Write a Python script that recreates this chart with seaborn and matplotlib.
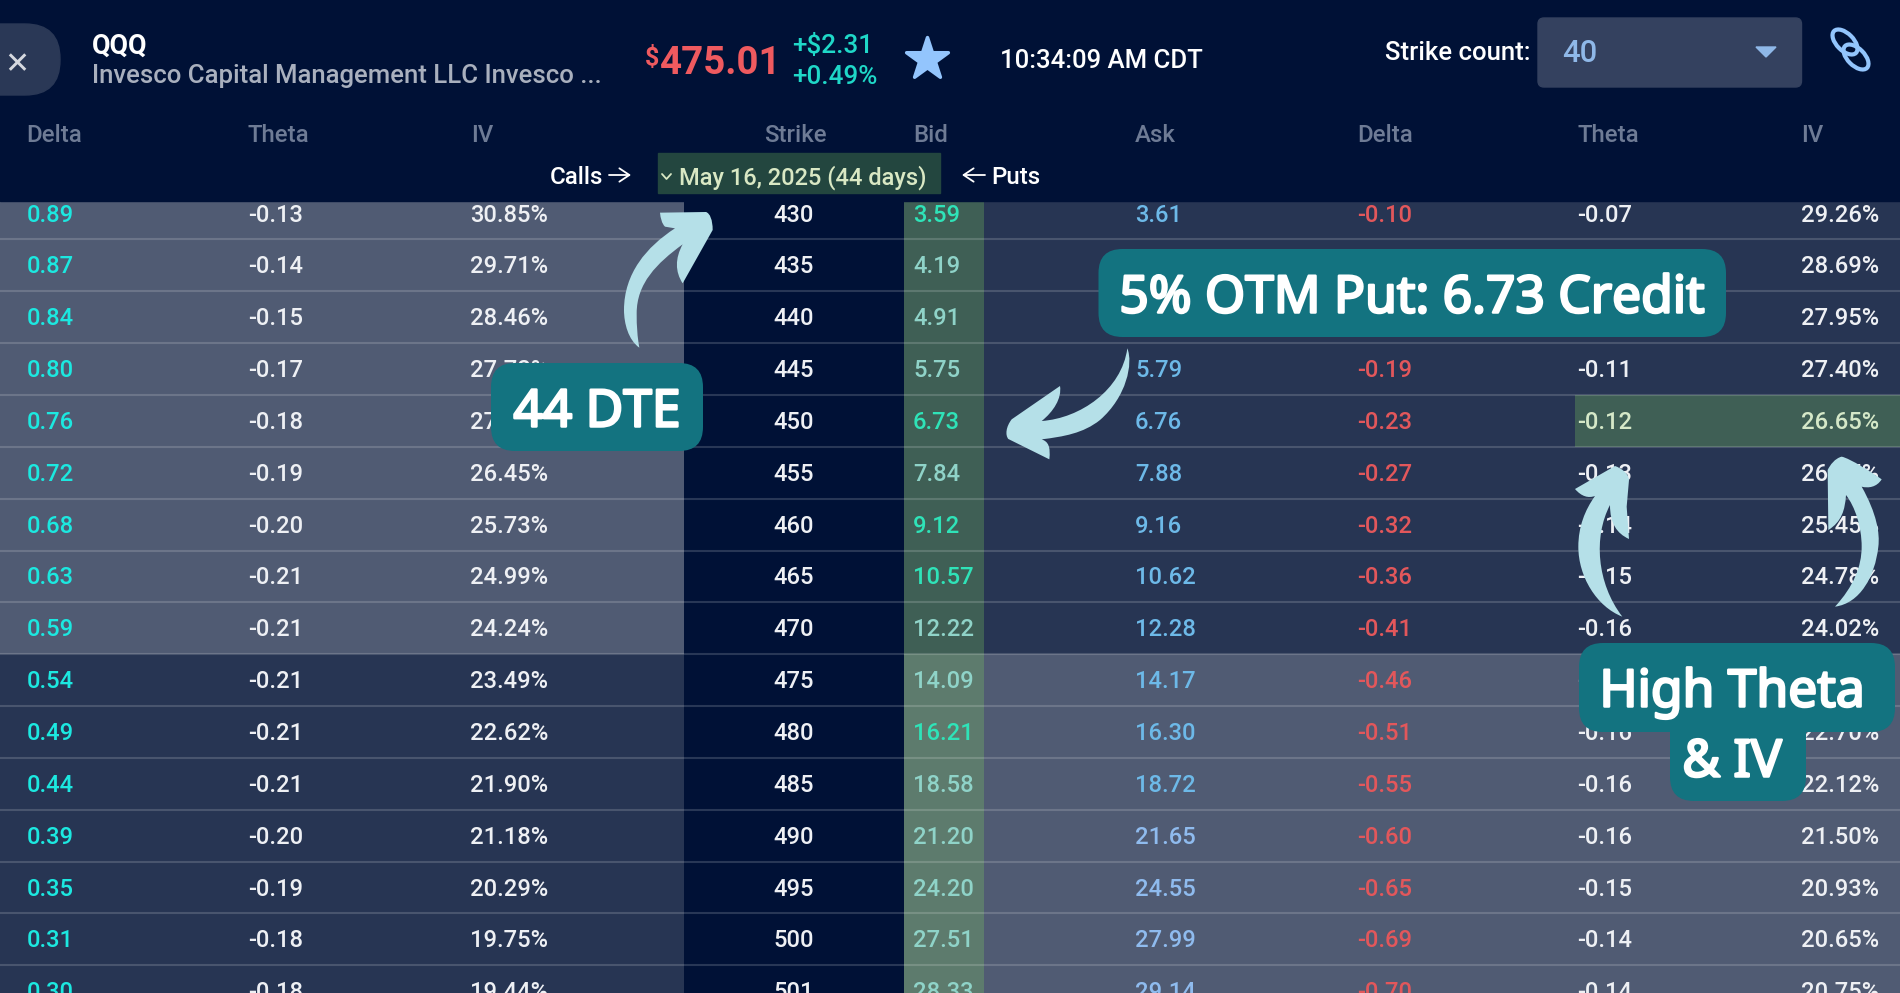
import numpy as np
import pandas as pd
import matplotlib
matplotlib.use("Agg")
import matplotlib.pyplot as plt
import matplotlib.patheffects as pe
from matplotlib.colors import ListedColormap
from matplotlib.markers import MarkerStyle
from matplotlib.patches import Ellipse, FancyBboxPatch, PathPatch, Polygon, Rectangle
from matplotlib.path import Path
import seaborn as sns

# option chain values
strikes = [430, 435, 440, 445, 450, 455, 460, 465, 470, 475, 480, 485, 490, 495, 500, 501]
call_delta = [0.89, 0.87, 0.84, 0.80, 0.76, 0.72, 0.68, 0.63, 0.59, 0.54, 0.49, 0.44, 0.39, 0.35, 0.31, 0.30]
call_theta = [-0.13, -0.14, -0.15, -0.17, -0.18, -0.19, -0.20, -0.21, -0.21, -0.21, -0.21, -0.21, -0.20, -0.19, -0.18, -0.18]
call_iv = [30.85, 29.71, 28.46, 27.72, 27.08, 26.45, 25.73, 24.99, 24.24, 23.49, 22.62, 21.90, 21.18, 20.29, 19.75, 19.44]
bid = [3.59, 4.19, 4.91, 5.75, 6.73, 7.84, 9.12, 10.57, 12.22, 14.09, 16.21, 18.58, 21.20, 24.20, 27.51, 28.33]
ask = [3.61, 4.21, 4.94, 5.79, 6.76, 7.88, 9.16, 10.62, 12.28, 14.17, 16.30, 18.72, 21.65, 24.55, 27.99, 29.14]
put_delta = [-0.10, -0.12, -0.15, -0.19, -0.23, -0.27, -0.32, -0.36, -0.41, -0.46, -0.51, -0.55, -0.60, -0.65, -0.69, -0.70]
put_theta = [-0.07, -0.08, -0.09, -0.11, -0.12, -0.13, -0.14, -0.15, -0.16, -0.16, -0.16, -0.16, -0.16, -0.15, -0.14, -0.14]
put_iv = [29.26, 28.69, 27.95, 27.40, 26.65, 26.05, 25.45, 24.78, 24.02, 23.36, 22.70, 22.12, 21.50, 20.93, 20.65, 20.75]
bid_flash = [1, 0, 0, 0, 1, 0, 1, 1, 0, 0, 1, 0, 0, 0, 0, 0]
column_names = ["Delta", "Theta", "IV", "Strike", "Bid", "Ask", "Delta", "Theta", "IV"]

BG = "#001136"
TEAL = "#137380"
ARROW = "#B5E0E8"
LIGHT = "#505B73"
DARK = "#273553"
WHITE = "#EEF0F4"

sns.set_theme(style="white")
plt.rcParams["font.family"] = ["Roboto", "DejaVu Sans"]

W, H = 1900, 993
ROW_H = 51.85
ROW_0 = 213.5
n = len(strikes)
df = pd.DataFrame({"strike": strikes, "itm": [s < 475 for s in strikes]})

fig = plt.figure(figsize=(19, 9.93), dpi=100, facecolor=BG)


def px(size):
    return size * 0.72


# background cells: one heatmap per block of columns, they have different widths
cell_colors = [BG, LIGHT, DARK, "#3F5F55", "#5D7B6D", "#3F5F55"]
cmap = ListedColormap(cell_colors)
zones = [
    (0, 684, np.where(df["itm"], 1, 2)),
    (684, 904, np.zeros(n)),
    (904, 984, np.where(df["itm"], 3, 4)),
    (984, 1575, np.where(df["itm"], 2, 1)),
    (1575, 1900, np.where(df["strike"] == 450, 5, np.where(df["itm"], 2, 1))),
]
table_top = ROW_0 - ROW_H / 2
for x0, x1, codes in zones:
    a = fig.add_axes([x0 / W, 1 - (table_top + n * ROW_H) / H, (x1 - x0) / W, n * ROW_H / H])
    sns.heatmap(np.asarray(codes).reshape(-1, 1), ax=a, cmap=cmap, vmin=-0.5, vmax=5.5,
                cbar=False, xticklabels=False, yticklabels=False)

# everything else goes on a pixel overlay
ax = fig.add_axes([0, 0, 1, 1], zorder=5)
ax.set_xlim(0, W)
ax.set_ylim(H, 0)
ax.axis("off")
ax.patch.set_alpha(0)

for i in range(n):
    y = ROW_0 + ROW_H * (i + 0.5)
    ax.plot([0, W], [y, y], color="white", alpha=0.16, lw=1.5, solid_capstyle="butt", zorder=1)


def cell(x, i, s, color=WHITE, size=23.7, ha="left"):
    ax.text(x, ROW_0 - 1 + ROW_H * i, s, color=color, fontsize=px(size), ha=ha, va="center_baseline",
            weight="medium", zorder=2)


for i in range(n):
    cell(27, i, f"{call_delta[i]:.2f}", "#1CE8E0")
    cell(248, i, f"{call_theta[i]:.2f}")
    cell(470, i, f"{call_iv[i]:.2f}%")
    cell(794, i, str(strikes[i]), ha="center")
    cell(913, i, f"{bid[i]:.2f}", "#2FE3B8" if bid_flash[i] else "#8FD3C8")
    cell(1135, i, f"{ask[i]:.2f}", "#6DB9E8" if strikes[i] < 490 else "#8FBBEE")
    cell(1357, i, f"{put_delta[i]:.2f}", "#E2575B")
    cell(1577, i, f"{put_theta[i]:.2f}", "#D5E8C8" if strikes[i] == 450 else WHITE)
    cell(1801, i, f"{put_iv[i]:.2f}%", "#D5E8C8" if strikes[i] == 450 else WHITE)

# top bar
ax.add_patch(Rectangle((0, 0), W, ROW_0 - ROW_H / 2 + 13.5, color=BG, zorder=3))


def label(x, y, s, color=WHITE, size=24, ha="left", weight="medium"):
    ax.text(x, y, s, color=color, fontsize=px(size), ha=ha, va="center_baseline", weight=weight, zorder=4)


for x, name in zip([26, 248, 471, 764, 913, 1135, 1357, 1578, 1801], column_names):
    label(x, 133, name, "#6E7B95")

ax.add_patch(FancyBboxPatch((-60, 24), 120, 71, boxstyle="round,pad=0,rounding_size=35", color="#2A3856", zorder=4))
label(17, 62, "✕", "#D5D8DF", 30, ha="center", weight="bold")
label(92, 43, "QQQ", "white", 26.8, weight="bold")
label(92, 74, "Invesco Capital Management LLC Invesco ...", "#A9B0BE", 25.8)
label(645, 55, "$", "#EF5A5F", 25, weight="bold")
label(660, 59, "475.01", "#EF5A5F", 38.5, weight="bold")
label(792, 43, "+$2.31", "#1FD8C8", 26)
label(792, 74, "+0.49%", "#1FD8C8", 26)
star = MarkerStyle("*", joinstyle="round")
ax.scatter([927], [59], marker=star, s=1000, color="#93C5FD", ec="#93C5FD", linewidths=2.5, zorder=4)
label(1000, 58, "10:34:09 AM CDT", "white", 25.7)
label(1385, 50, "Strike count:", "white", 25.8)
ax.add_patch(FancyBboxPatch((1538, 18), 263.5, 69, boxstyle="round,pad=0,rounding_size=6", color="#34415F", zorder=4))
label(1562, 51, "40", "#8FB8E8", 31)
ax.add_patch(Polygon([(1756, 47), (1776, 47), (1766, 57)], color="#8FB8E8", zorder=5))
for cx, cy in [(1845, 42), (1856, 57)]:
    ax.add_patch(Ellipse((cx, cy), 31, 17, angle=45, fill=False, ec="#93C5FD", lw=3, zorder=5))

label(550, 175, "Calls", "white", 24)
ax.annotate("", xy=(631, 175), xytext=(609, 175), zorder=4,
            arrowprops=dict(arrowstyle="->,head_length=0.6,head_width=0.4", color="white", lw=1.3, shrinkA=0, shrinkB=0))
ax.add_patch(Rectangle((658, 153), 282, 40, color="#23463F", zorder=4))
ax.plot([662, 666.5, 671], [174, 179, 174], color="#D9E8C4", lw=1.3, zorder=5)
label(679, 175, "May 16, 2025 (44 days)", "#D9E8C4", 23.6)
ax.annotate("", xy=(962, 175), xytext=(985, 175), zorder=4,
            arrowprops=dict(arrowstyle="->,head_length=0.6,head_width=0.4", color="white", lw=1.3, shrinkA=0, shrinkB=0))
label(991, 175, "Puts", "white", 24)


# callouts
def box(x0, y0, x1, y1, r=24):
    ax.add_patch(FancyBboxPatch((x0, y0), x1 - x0, y1 - y0, boxstyle=f"round,pad=0,rounding_size={r}",
                                color=TEAL, lw=0, zorder=6))


def callout_text(x, y, s):
    t = ax.text(x, y, s, color="white", fontsize=px(51.5), ha="center", va="center_baseline",
                family="Noto Sans", zorder=7)
    t.set_path_effects([pe.withStroke(linewidth=1.8, foreground="white")])


box(1098.5, 249, 1726, 337)
callout_text(1412, 293, "5% OTM Put: 6.73 Credit")
box(491, 363, 703, 451)
callout_text(597, 407, "44 DTE")
box(1579, 643, 1895, 732)
box(1670, 700, 1806, 801)
callout_text(1732, 687, "High Theta")
callout_text(1732, 757, "& IV")


def arrow(ox, oy, shape):
    verts, codes = [], []
    for part in shape:
        if len(part) == 2 and not verts:
            verts.append(part)
            codes.append(Path.MOVETO)
        elif len(part) == 2:
            verts.append(part)
            codes.append(Path.LINETO)
        else:
            verts += [part[:2], part[2:4], part[4:]]
            codes += [Path.CURVE4] * 3
    verts.append(verts[0])
    codes.append(Path.CLOSEPOLY)
    verts = [(ox + v[0] / 3, oy + v[1] / 3) for v in verts]
    ax.add_patch(PathPatch(Path(verts, codes), fc=ARROW, ec="none", zorder=8))


arrow(600, 200, [(180, 38), (318, 36), (330, 40, 338, 60, 338, 90), (248, 250), (225, 215, 225, 175, 248, 133),
                 (170, 190, 110, 250, 110, 340), (110, 380, 112, 410, 118, 443), (85, 420, 72, 370, 72, 330),
                 (72, 220, 140, 140, 225, 85), (195, 80), (185, 70, 182, 55, 180, 38)])
arrow(990, 340, [(412, 25), (430, 70, 410, 170, 330, 240), (280, 280, 220, 290, 155, 298),
                 (175, 305, 182, 320, 178, 358), (55, 297), (45, 285, 48, 260, 65, 238), (210, 138),
                 (216, 175, 190, 215, 155, 243), (270, 235, 395, 150, 412, 25)])
arrow(1560, 440, [(165, 78), (185, 85, 205, 100, 207, 120), (200, 200), (207, 297), (170, 280, 150, 250, 150, 195),
                  (100, 290, 110, 430, 187, 530), (110, 500, 55, 410, 55, 320), (55, 260, 75, 210, 105, 168),
                  (85, 175, 65, 170, 45, 147)])
arrow(1560, 440, [(845, 50), (870, 55, 940, 100, 965, 118), (950, 142, 925, 145, 905, 140),
                  (950, 220, 960, 280, 955, 320), (945, 410, 900, 490, 825, 500), (880, 440, 905, 380, 905, 320),
                  (905, 260, 885, 200, 858, 165), (855, 210, 845, 245, 805, 270), (803, 90),
                  (810, 75, 825, 55, 845, 50)])

fig.savefig("out.png", dpi=100, facecolor=BG)
